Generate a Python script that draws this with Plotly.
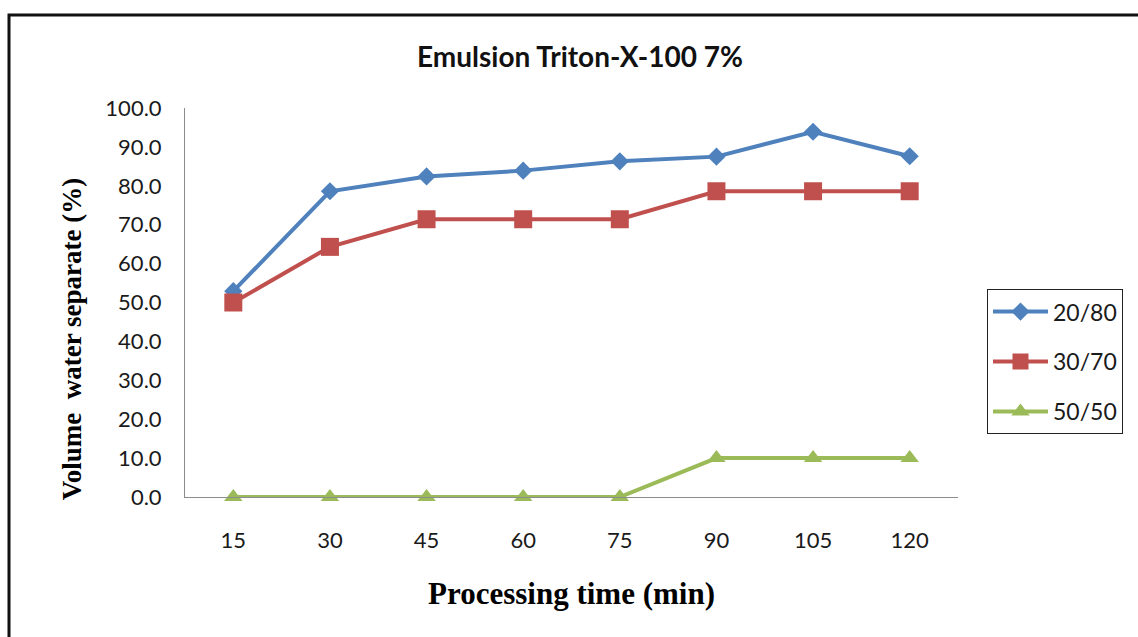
import plotly.graph_objects as go

categories = ["15", "30", "45", "60", "75", "90", "105", "120"]
s_20_80 = [52.9, 78.6, 82.4, 83.9, 86.3, 87.5, 93.9, 87.6]
s_30_70 = [50.0, 64.3, 71.4, 71.4, 71.4, 78.6, 78.6, 78.6]
s_50_50 = [0.0, 0.0, 0.0, 0.0, 0.0, 10.0, 10.0, 10.0]
y_ticks = [0, 10, 20, 30, 40, 50, 60, 70, 80, 90, 100]

series = [
    ("20/80", s_20_80, "#4F81BD", "diamond", 14),
    ("30/70", s_30_70, "#C0504D", "square", 18),
    ("50/50", s_50_50, "#9BBB59", "triangle-up", 16),
]

fig = go.Figure()
for i, (name, vals, col, sym, sz) in enumerate(series):
    fig.add_trace(go.Scatter(
        x=list(range(len(categories))), y=vals, name=name, mode="lines+markers",
        line=dict(color=col, width=4),
        marker=dict(symbol=sym, size=sz, color=col),
        legendgroup=str(i), cliponaxis=False,
    ))

L, R, T, B = 185, 958, 108, 496.7
W, H = 1138, 637
fig.update_layout(
    width=W, height=H,
    margin=dict(l=L, r=W - R, t=T, b=H - B),
    plot_bgcolor="white", paper_bgcolor="white",
    font=dict(family="Lato, Open Sans, sans-serif", color="#1a1a1a", size=22),
    title=dict(text="<b>Emulsion Triton-X-100 7%</b>", x=580 / W, xanchor="center",
               y=1 - 57 / H, yanchor="middle",
               font=dict(family="Lato, Open Sans, sans-serif", size=28, color="#111")),
    showlegend=True,
    legend=dict(x=(987 - L) / (R - L), y=(B - 289) / (B - T), xanchor="left", yanchor="top",
                bordercolor="#222", borderwidth=1, bgcolor="white",
                font=dict(size=23, family="Lato, Open Sans, sans-serif", color="#1a1a1a"),
                traceorder="grouped", tracegroupgap=17, itemwidth=55),
    xaxis=dict(
        tickmode="array", tickvals=list(range(len(categories))), ticktext=categories,
        range=[-0.5, len(categories) - 0.5], showgrid=False, zeroline=False,
        showline=True, linecolor="#8c8c8c", linewidth=1, ticks="",
        ticklabelstandoff=24, tickfont=dict(size=22),
        title=dict(text="<b>Processing time (min)</b>", standoff=29,
                   font=dict(family="Liberation Serif, Times New Roman, serif", size=31, color="#000")),
    ),
    yaxis=dict(
        range=[0, 100], tickmode="array", tickvals=y_ticks,
        ticktext=[f"{v:.1f}" for v in y_ticks], showgrid=False, zeroline=False,
        showline=True, linecolor="#8c8c8c", linewidth=1,
        ticks="outside", ticklen=18, tickcolor="rgba(0,0,0,0)", tickfont=dict(size=22),
    ),
    # overlay axis carrying only the short visible tick marks
    yaxis2=dict(
        overlaying="y", side="left", anchor="x", range=[0, 100],
        tickmode="array", tickvals=y_ticks, showticklabels=False,
        showgrid=False, zeroline=False, showline=False,
        ticks="outside", ticklen=7, tickcolor="#8c8c8c",
    ),
)

# y-axis title (placed lower than plot-centre, as in the reference)
fig.add_annotation(text="<b>Volume  water separate (%)</b>", xref="paper", yref="paper",
                   x=(72 - L) / (R - L), y=(B - 339) / (B - T), xanchor="center", yanchor="middle",
                   textangle=-90, showarrow=False,
                   font=dict(family="Liberation Serif, Times New Roman, serif", size=27, color="#000"))

# outer frame of the chart area
fig.add_shape(type="rect", xref="paper", yref="paper",
              x0=(9 - L) / (R - L), x1=(W + 20 - L) / (R - L),
              y0=(B - (H + 20)) / (B - T), y1=(B - 15) / (B - T),
              line=dict(color="#111", width=3), fillcolor="rgba(0,0,0,0)", layer="below")

fig.write_html("out.html")
